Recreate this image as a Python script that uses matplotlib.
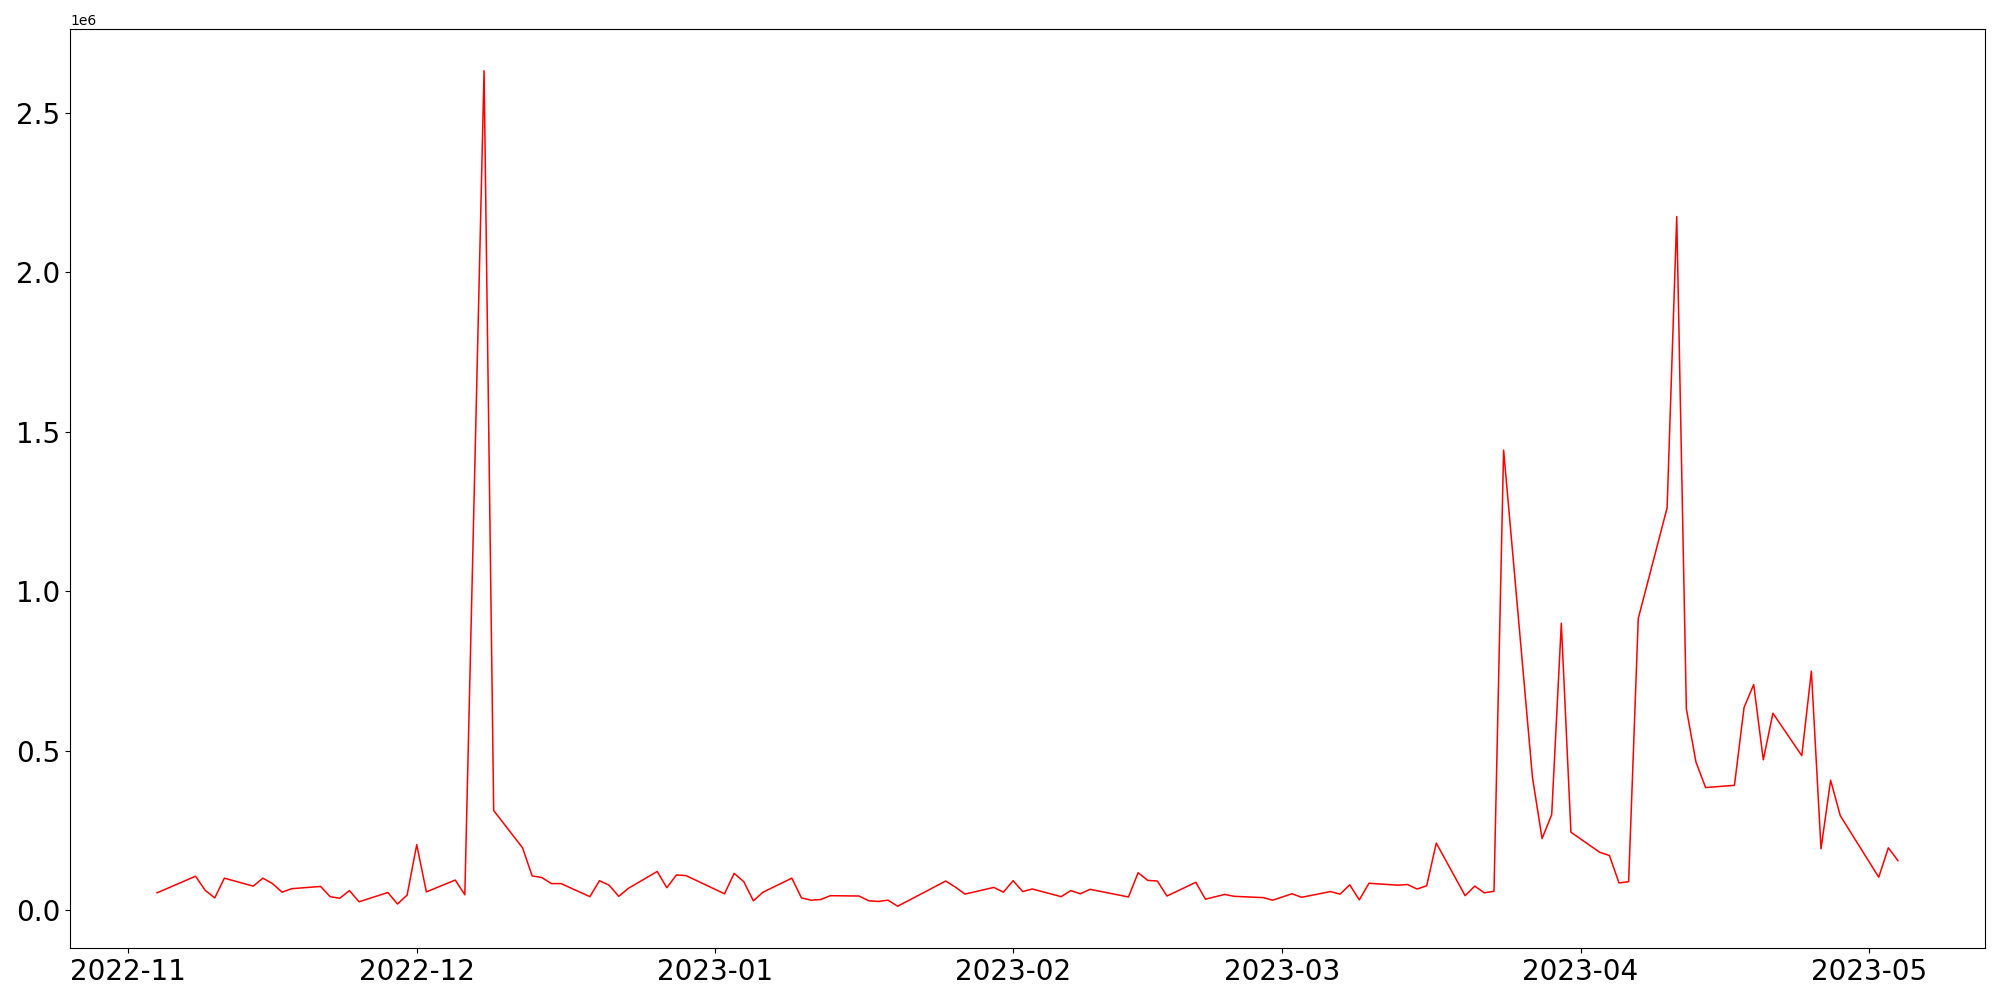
import matplotlib
matplotlib.use("Agg")
import matplotlib.pyplot as plt
import matplotlib.dates as mdates
import pandas as pd

dates = [
    "2022-11-04", "2022-11-08", "2022-11-09", "2022-11-10", "2022-11-11",
    "2022-11-14", "2022-11-15", "2022-11-16", "2022-11-17", "2022-11-18",
    "2022-11-21", "2022-11-22", "2022-11-23", "2022-11-24", "2022-11-25",
    "2022-11-28", "2022-11-29", "2022-11-30", "2022-12-01", "2022-12-02",
    "2022-12-05", "2022-12-06", "2022-12-08", "2022-12-09",
    "2022-12-12", "2022-12-13", "2022-12-14", "2022-12-15", "2022-12-16",
    "2022-12-19", "2022-12-20", "2022-12-21", "2022-12-22", "2022-12-23",
    "2022-12-26", "2022-12-27", "2022-12-28", "2022-12-29",
    "2023-01-02", "2023-01-03", "2023-01-04", "2023-01-05", "2023-01-06",
    "2023-01-09", "2023-01-10", "2023-01-11", "2023-01-12", "2023-01-13",
    "2023-01-16", "2023-01-17", "2023-01-18", "2023-01-19", "2023-01-20",
    "2023-01-25", "2023-01-26", "2023-01-27",
    "2023-01-30", "2023-01-31", "2023-02-01", "2023-02-02", "2023-02-03",
    "2023-02-06", "2023-02-07", "2023-02-08", "2023-02-09",
    "2023-02-13", "2023-02-14", "2023-02-15", "2023-02-16", "2023-02-17",
    "2023-02-20", "2023-02-21", "2023-02-23", "2023-02-24",
    "2023-02-27", "2023-02-28", "2023-03-02", "2023-03-03",
    "2023-03-06", "2023-03-07", "2023-03-08", "2023-03-09", "2023-03-10",
    "2023-03-13", "2023-03-14", "2023-03-15", "2023-03-16", "2023-03-17",
    "2023-03-20", "2023-03-21", "2023-03-22", "2023-03-23", "2023-03-24",
    "2023-03-27", "2023-03-28", "2023-03-29", "2023-03-30", "2023-03-31",
    "2023-04-03", "2023-04-04", "2023-04-05", "2023-04-06", "2023-04-07",
    "2023-04-10", "2023-04-11", "2023-04-12", "2023-04-13", "2023-04-14",
    "2023-04-17", "2023-04-18", "2023-04-19", "2023-04-20", "2023-04-21",
    "2023-04-24", "2023-04-25", "2023-04-26", "2023-04-27", "2023-04-28",
    "2023-05-02", "2023-05-03", "2023-05-04",
]

values = [
    55000, 107000, 63000, 39000, 101000,
    76000, 101000, 84000, 57000, 68000,
    75000, 43000, 38000, 62000, 27000,
    56000, 20000, 48000, 206000, 58000,
    95000, 49000, 2632000, 313000,
    196000, 108000, 103000, 84000, 84000,
    43000, 93000, 79000, 44000, 69000,
    122000, 71000, 111000, 109000,
    52000, 116000, 90000, 30000, 57000,
    101000, 39000, 32000, 34000, 46000,
    45000, 30000, 28000, 32000, 13000,
    92000, 73000, 51000,
    72000, 57000, 93000, 59000, 67000,
    43000, 62000, 52000, 66000,
    42000, 118000, 94000, 92000, 45000,
    88000, 35000, 50000, 44000,
    40000, 32000, 52000, 41000,
    59000, 51000, 80000, 33000, 85000,
    79000, 81000, 67000, 77000, 211000,
    46000, 76000, 55000, 60000, 1443000,
    417000, 225000, 300000, 900000, 245000,
    182000, 172000, 86000, 90000, 915000,
    1262000, 2175000, 632000, 465000, 385000,
    392000, 636000, 708000, 472000, 618000,
    485000, 750000, 193000, 408000, 297000,
    104000, 196000, 156000,
]

x = pd.to_datetime(dates)

fig, ax = plt.subplots(figsize=(20, 10), dpi=100)
ax.plot(x, values, color="red", linewidth=1.1)

ax.xaxis.set_major_locator(mdates.MonthLocator())
ax.xaxis.set_major_formatter(mdates.DateFormatter("%Y-%m"))
ax.tick_params(axis="both", labelsize=20)

fig.subplots_adjust(left=0.035, right=0.9925, top=0.971, bottom=0.052)
fig.savefig("out.png", dpi=100)
